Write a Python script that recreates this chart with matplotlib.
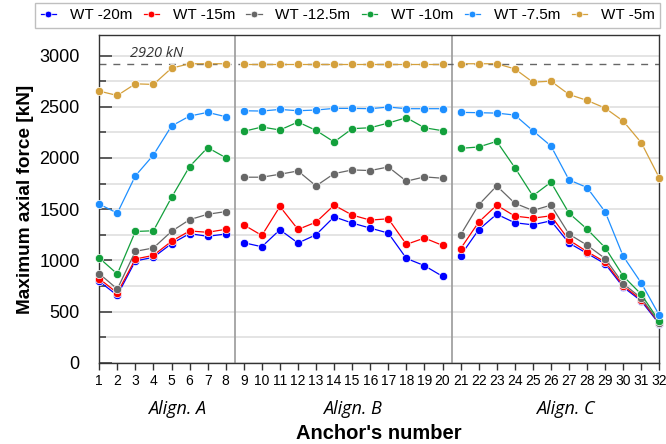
import matplotlib
matplotlib.use("Agg")
import matplotlib.pyplot as plt
from matplotlib.ticker import MultipleLocator
from matplotlib import font_manager

# Anchor numbers along the three alignments
anchors = list(range(1, 33))

# Maximum axial force per anchor [kN] for each water-table level
wt_20 = [795, 658, 994, 1030, 1163, 1261, 1235, 1257,
         1172, 1133, 1299, 1169, 1250, 1425, 1364, 1315, 1266, 1019, 948, 844,
         1047, 1299, 1451, 1367, 1347, 1386, 1169, 1068, 966, 739, 603, 378]
wt_15 = [821, 681, 1013, 1049, 1186, 1287, 1274, 1303,
         1347, 1243, 1526, 1302, 1373, 1539, 1442, 1393, 1406, 1156, 1218, 1146,
         1114, 1373, 1539, 1432, 1412, 1435, 1198, 1085, 984, 752, 616, 388]
wt_125 = [870, 720, 1088, 1121, 1283, 1397, 1450, 1476,
          1812, 1812, 1841, 1873, 1727, 1847, 1883, 1877, 1912, 1773, 1815, 1802,
          1249, 1542, 1727, 1558, 1487, 1539, 1256, 1148, 1018, 772, 632, 390]
wt_10 = [1023, 867, 1282, 1289, 1614, 1916, 2101, 2003,
         2260, 2302, 2273, 2351, 2269, 2156, 2286, 2295, 2341, 2393, 2295, 2266,
         2094, 2107, 2162, 1906, 1630, 1763, 1461, 1305, 1124, 847, 668, 404]
wt_75 = [1549, 1461, 1825, 2029, 2312, 2409, 2445, 2403,
         2461, 2458, 2474, 2461, 2468, 2484, 2484, 2481, 2497, 2481, 2481, 2481,
         2445, 2442, 2438, 2419, 2266, 2117, 1786, 1711, 1474, 1040, 779, 463]
wt_5 = [2653, 2610, 2724, 2718, 2877, 2920, 2920, 2920,
        2920, 2920, 2920, 2920, 2920, 2920, 2920, 2920, 2920, 2920, 2920, 2920,
        2920, 2920, 2920, 2870, 2740, 2750, 2620, 2562, 2487, 2360, 2149, 1805]

series_labels = ["WT -20m", "WT -15m", "WT -12.5m", "WT -10m", "WT -7.5m", "WT -5m"]
series_values = [wt_20, wt_15, wt_125, wt_10, wt_75, wt_5]
series_colors = ["#0000ff", "#ff0000", "#676767", "#13a03c", "#1e8fff", "#d4a03c"]

capacity = 2920
alignment_names = ["Align. A", "Align. B", "Align. C"]
# first and last anchor of each alignment
alignment_ranges = [(1, 8), (9, 20), (21, 32)]
alignment_label_x = [5.3, 15.0, 26.8]
alignment_breaks = [8.5, 20.5]

installed = {f.name for f in font_manager.fontManager.ttflist}
sans = "Liberation Sans" if "Liberation Sans" in installed else "DejaVu Sans"
plt.rcParams["font.family"] = [sans, "DejaVu Sans"]
italic_family = ["Open Sans", "DejaVu Sans"]

fig = plt.figure(figsize=(6.66, 4.44), dpi=100)
ax = fig.add_axes([0.149, 0.183, 0.841, 0.738])

ax.set_xlim(1, 32)
ax.set_ylim(0, 3200)

# horizontal grid at every 250 kN
ax.yaxis.set_major_locator(MultipleLocator(500))
ax.yaxis.set_minor_locator(MultipleLocator(250))
ax.set_yticks(range(0, 3001, 500))
ax.grid(axis="y", which="both", color="#e2e2e2", linewidth=1.3, zorder=0)
ax.set_axisbelow(True)

for xb in alignment_breaks:
    ax.axvline(xb, color="#9a9a9a", linewidth=1.2, zorder=1)

ax.axhline(capacity, color="#666666", linewidth=1.0, dashes=(5, 5), zorder=1)
ax.text(2.72, capacity + 25, f"{capacity} kN", fontsize=10.5, style="italic",
        family=italic_family, color="#333333", va="bottom", ha="left")

# each alignment is drawn as its own polyline
for lab, vals, col in zip(series_labels, series_values, series_colors):
    for k, (a0, a1) in enumerate(alignment_ranges):
        xs = anchors[a0 - 1:a1]
        ys = vals[a0 - 1:a1]
        ax.plot(xs, ys, color=col, linewidth=0.9, marker="o", markersize=6,
                markerfacecolor=col, markeredgecolor="white", markeredgewidth=0.5,
                label=lab if k == 0 else None, zorder=3, clip_on=False)

for sp in ax.spines.values():
    sp.set_color("#333333")
    sp.set_linewidth(1.0)

ax.set_xticks(anchors)
ax.set_xticklabels([str(a) for a in anchors], fontsize=10)
ax.tick_params(axis="x", which="major", direction="out", length=5, width=1,
               color="#333333", pad=3)
ax.tick_params(axis="y", which="major", direction="in", length=9, width=1.2,
               color="#444444", labelsize=13, pad=14)
ax.tick_params(axis="y", which="minor", direction="in", length=5, width=1.2,
               color="#444444")

for name, xc in zip(alignment_names, alignment_label_x):
    ax.text(xc, -0.142, name, transform=ax.get_xaxis_transform(), ha="center",
            va="center", fontsize=13, style="italic", family=italic_family)

ax.set_ylabel("Maximum axial force [kN]", fontsize=13.7, fontweight="bold", labelpad=4)
ax.text(16.5, -0.215, "Anchor's number", transform=ax.get_xaxis_transform(),
        ha="center", va="center", fontsize=14.5, fontweight="bold")

handles, labels = ax.get_legend_handles_labels()
leg = fig.legend(handles, labels, loc="upper center", bbox_to_anchor=(0.522, 0.993),
                 ncol=6, fontsize=11, frameon=True, fancybox=False,
                 handlelength=1.0, handletextpad=0.9, columnspacing=0.75,
                 borderpad=0.35, borderaxespad=0, markerscale=0.8)
leg.get_frame().set_edgecolor("#b0b0b0")
leg.get_frame().set_linewidth(1.0)

fig.savefig("out.png", dpi=100)
